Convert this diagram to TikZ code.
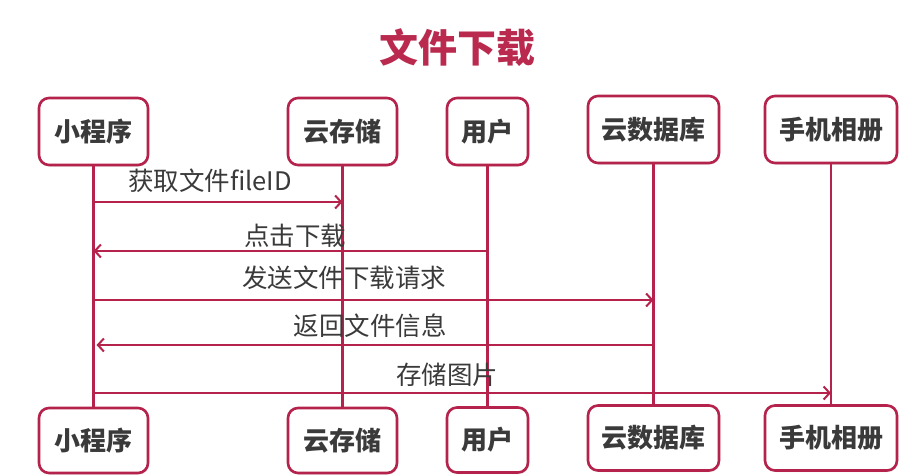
\documentclass[tikz,border=0pt]{standalone}
\usepackage{fontspec}
\newfontfamily\cjk{Noto Sans CJK SC}
\usetikzlibrary{arrows.meta,shadows}
\definecolor{crim}{HTML}{B5224B}
\definecolor{titlec}{HTML}{B92A4E}
\definecolor{txt}{HTML}{3A3A3A}
\tikzset{
  actor/.style={draw=crim, line width=2.6pt, rounded corners=10pt, fill=white,
    minimum height=67pt, inner sep=0pt, text=txt,
    font=\cjk\bfseries\fontsize{26}{28}\selectfont,
    drop shadow={opacity=0.25, shadow xshift=1pt, shadow yshift=-1.5pt}},
  life/.style={draw=crim, line width=2.2pt},
  msg/.style={draw=crim, line width=2.2pt, -{Straight Barb[length=6pt,width=13pt,line width=2pt]}},
  lbl/.style={text=txt, font=\cjk\fontsize{25.5}{28}\selectfont, inner sep=0pt},
}
\begin{document}
\begin{tikzpicture}[x=1pt,y=-1pt]
\useasboundingbox (0,0) rectangle (917,474);
\fill[white] (0,0) rectangle (917,474);
\node[text=titlec, font=\cjk\bfseries\fontsize{39}{42}\selectfont] (title) at (457,48) {文件下载};
% top actors
\node[actor, minimum width=109pt] (a1) at (93.5,131.5) {小程序};
\node[actor, minimum width=109pt] (a2) at (342.5,131.5) {云存储};
\node[actor, minimum width=81pt] (a3) at (487.5,131.5) {用户};
\node[actor, minimum width=131pt] (a4) at (653.5,129.5) {云数据库};
\node[actor, minimum width=132pt] (a5) at (831,129.5) {手机相册};
% bottom actors
\node[actor, minimum width=109pt, minimum height=65pt] (b1) at (93.5,440.5) {小程序};
\node[actor, minimum width=109pt, minimum height=65pt] (b2) at (342.5,440.5) {云存储};
\node[actor, minimum width=81pt, minimum height=65pt] (b3) at (487.5,440) {用户};
\node[actor, minimum width=131pt, minimum height=65pt] (b4) at (653.5,438) {云数据库};
\node[actor, minimum width=132pt, minimum height=65pt] (b5) at (831,438) {手机相册};
% lifelines
\foreach \i in {1,...,5}{\draw[life] (a\i.south) -- (b\i.north);}
% message levels
\coordinate (y1) at (0,202);
\coordinate (y2) at (0,251);
\coordinate (y3) at (0,300);
\coordinate (y4) at (0,345);
\coordinate (y5) at (0,393);
\draw[msg] (a1 |- y1) -- (a2 |- y1);
\draw[msg] (a3 |- y2) -- (a1 |- y2);
\draw[msg] (a1 |- y3) -- (a4 |- y3);
\draw[msg] (a4 |- y4) -- ([xshift=3pt]a1 |- y4);
\draw[msg] (a1 |- y5) -- (a5 |- y5);
% labels
\node[lbl] (l1) at (210,181) {获取文件fileID};
\node[lbl] (l2) at (295,236) {点击下载};
\node[lbl] (l3) at (344,278) {发送文件下载请求};
\node[lbl] (l4) at (370,326) {返回文件信息};
\node[lbl] (l5) at (447,375) {存储图片};
\end{tikzpicture}
\end{document}
